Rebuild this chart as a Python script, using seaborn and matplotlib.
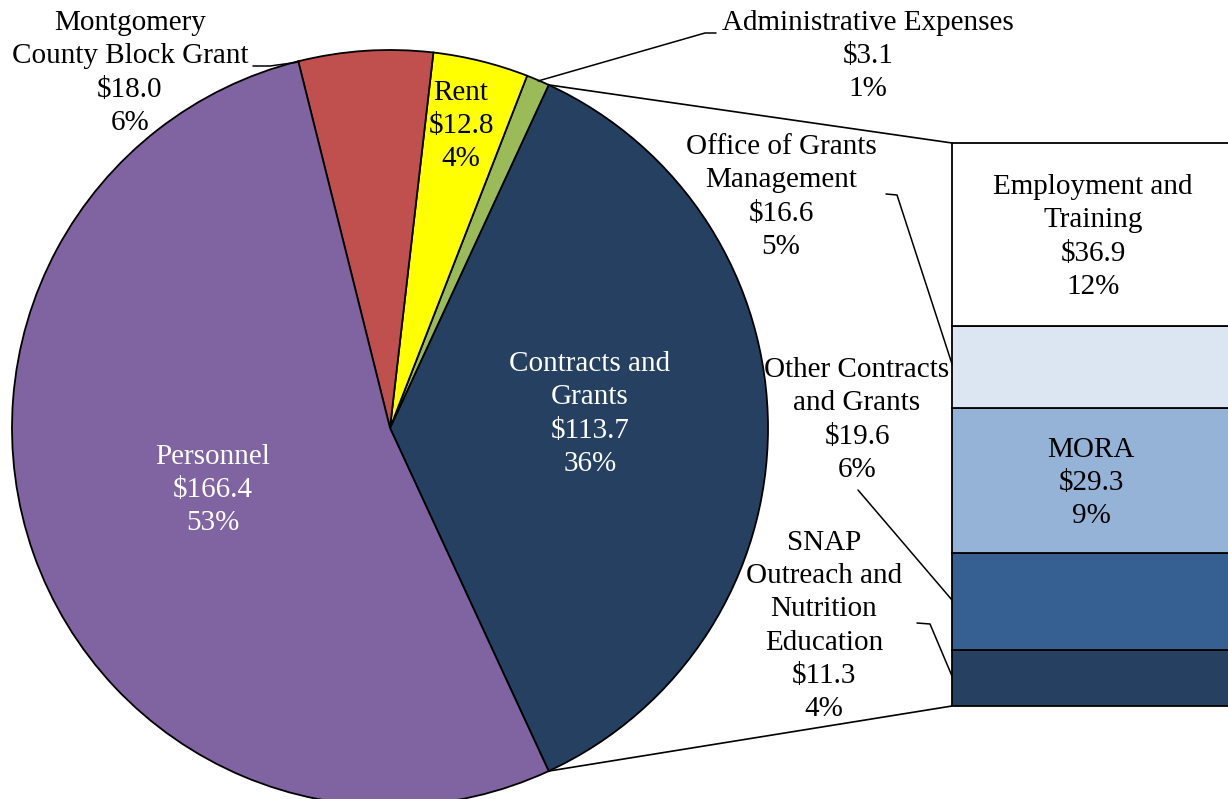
import numpy as np
import matplotlib
matplotlib.use("Agg")
import matplotlib.pyplot as plt
import seaborn as sns

sns.set_theme(style="white")
plt.rcParams['font.family'] = ['Liberation Serif', 'DejaVu Serif']

# ---- data ----
pie_labels = ["Contracts and\nGrants", "Administrative Expenses", "Rent",
              "Montgomery\nCounty Block Grant", "Personnel"]
pie_values = [113.7, 3.1, 12.8, 18.0, 166.4]
pie_pcts = ["36%", "1%", "4%", "6%", "53%"]
pie_colors = ["#254061", "#9BBB59", "#FFFF00", "#C0504D", "#8064A2"]

bar_labels = ["SNAP\nOutreach and\nNutrition\nEducation", "Other Contracts\nand Grants",
              "MORA", "Office of Grants\nManagement", "Employment and\nTraining"]
bar_values = [11.3, 19.6, 29.3, 16.6, 36.9]
bar_pcts = ["4%", "6%", "9%", "5%", "12%"]
bar_colors = ["#254061", "#376092", "#95B3D7", "#DCE6F2", "#FFFFFF"]

W, H = 1228, 799
def Y(y):
    return H - y

fig = plt.figure(figsize=(W / 100, H / 100), dpi=100)

# ---- bar of pie (drawn beneath the main axes) ----
bx0, btop, bbot = 952, 143, 706
ax2 = fig.add_axes([bx0 / W, Y(bbot) / H, (W + 6 - bx0) / W, (bbot - btop) / H])
bottoms = np.concatenate([[0], np.cumsum(bar_values)[:-1]])
ax2.bar(0, bar_values, bottom=bottoms, width=1.0, color=bar_colors,
        edgecolor="black", linewidth=1.3, clip_on=False)
ax2.set_xlim(-0.5, 0.5)
ax2.set_ylim(0, sum(bar_values))
ax2.axis("off")
ax2.set_zorder(0)

ax = fig.add_axes([0, 0, 1, 1])
ax.set_zorder(1)
ax.patch.set_visible(False)

cx, cy, r = 390, Y(428), 378
total = sum(pie_values)
start = -pie_values[0] / total * 180.0
ax.pie(pie_values, colors=pie_colors, startangle=start, counterclock=True,
       center=(cx, cy), radius=r,
       wedgeprops=dict(edgecolor="black", linewidth=1.3))
ax.set_xlim(0, W)
ax.set_ylim(0, H)
ax.set_aspect("auto")
ax.axis("off")

# connector lines
a = np.deg2rad(start)
p_top = (cx + r * np.cos(-a), cy + r * np.sin(-a))
p_bot = (cx + r * np.cos(a), cy + r * np.sin(a))
ax.plot([p_top[0], bx0], [p_top[1], Y(btop)], color="black", lw=1.2)
ax.plot([p_bot[0], bx0], [p_bot[1], Y(bbot)], color="black", lw=1.2)

FS = 21
LS = 1.36
def lab(x, y, s, color="black"):
    ax.text(x, Y(y), s, ha="center", va="center", fontsize=FS, color=color,
            linespacing=LS)

def val(v):
    return f"${v:.1f}"

# pie labels
lab(590, 414, f"{pie_labels[0]}\n{val(pie_values[0])}\n{pie_pcts[0]}", "white")
lab(868, 56, f"{pie_labels[1]}\n{val(pie_values[1])}\n{pie_pcts[1]}")
lab(461, 126, f"{pie_labels[2]}\n{val(pie_values[2])}\n{pie_pcts[2]}")
lab(130, 73, f"{pie_labels[3]}\n{val(pie_values[3])}\n{pie_pcts[3]}")
lab(213, 490, f"{pie_labels[4]}\n{val(pie_values[4])}\n{pie_pcts[4]}", "white")

# bar labels
lab(824, 626, f"{bar_labels[0]}\n{val(bar_values[0])}\n{bar_pcts[0]}")
lab(857, 420, f"{bar_labels[1]}\n{val(bar_values[1])}\n{bar_pcts[1]}")
lab(1091, 483, f"{bar_labels[2]}\n{val(bar_values[2])}\n{bar_pcts[2]}")
lab(781, 197, f"{bar_labels[3]}\n{val(bar_values[3])}\n{bar_pcts[3]}")
lab(1093, 237, f"{bar_labels[4]}\n{val(bar_values[4])}\n{bar_pcts[4]}")

# leader lines
def leader(pts):
    xs = [p[0] for p in pts]
    ys = [Y(p[1]) for p in pts]
    ax.plot(xs, ys, color="black", lw=1.1)

leader([(253, 66), (270, 66), (299, 62)])
leader([(716, 33), (705, 33), (538, 81)])
leader([(886, 194), (897, 195), (952, 364)])
leader([(858, 490), (952, 600)])
leader([(917, 623), (930, 624), (952, 676)])

fig.savefig("out.png", dpi=100, facecolor="white")
